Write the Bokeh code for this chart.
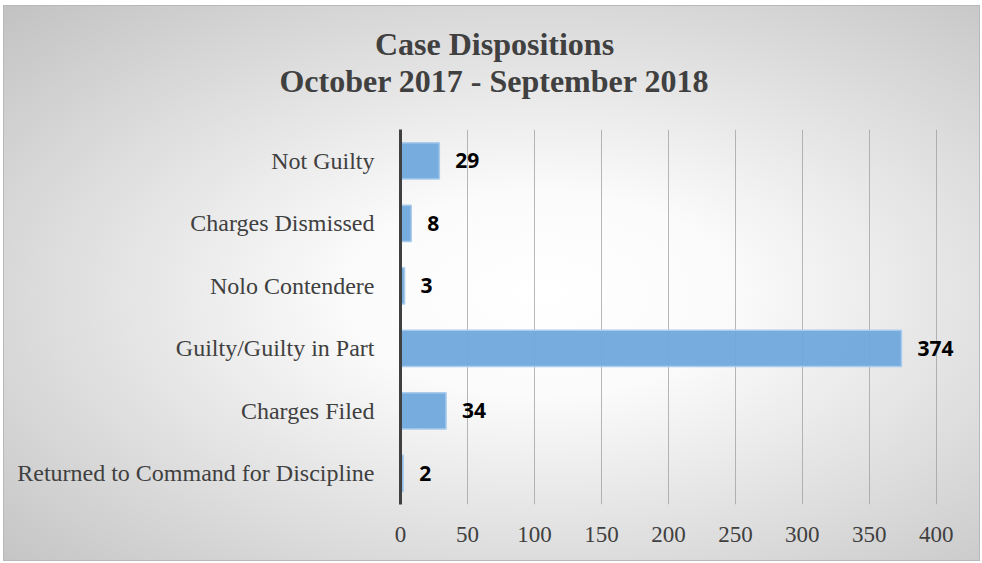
from bokeh.plotting import figure
from bokeh.models import ColumnDataSource, LabelSet, Title, FixedTicker, Range1d, FactorRange
from bokeh.core.properties import value
from bokeh.embed import file_html
from bokeh.resources import INLINE

categories = ["Returned to Command for Discipline", "Charges Filed", "Guilty/Guilty in Part",
              "Nolo Contendere", "Charges Dismissed", "Not Guilty"]
values = [2, 34, 374, 3, 8, 29]
x_ticks = [0, 50, 100, 150, 200, 250, 300, 350, 400]
title_lines = ["Case Dispositions", "October 2017 - September 2018"]

src = ColumnDataSource(dict(cat=categories, val=values, lab=[str(v) for v in values]))

W, H = 977, 556
FL, FT = 396, 123          # frame left / top inside figure
FW, FH = 576, 375          # frame size (x range 0..430)
p = figure(width=W, height=H, output_backend="svg", toolbar_location=None,
           y_range=FactorRange(factors=categories), x_range=Range1d(0, 430),
           min_border_left=FL, min_border_right=W - FL - FW,
           min_border_top=FT, min_border_bottom=H - FT - FH)
p.styles = {"background": "radial-gradient(ellipse at 55% 52%, #ffffff 0%, #fbfbfb 25%, #c2c2c2 100%)",
            "border": "1px solid #b8b8b8", "box-sizing": "border-box",
            "margin": "5px 0 0 3px"}
p.border_fill_color = None
p.background_fill_color = None
p.outline_line_color = None

p.hbar(y="cat", right="val", left=0, height=0.58, source=src,
       fill_color="#6fa8dc", fill_alpha=0.95, line_color="#a9cbec", line_width=1.5)

labels = LabelSet(x="val", y="cat", text="lab", source=src, x_offset=16, y_offset=0,
                  text_align="left", text_baseline="middle", text_font=value("Open Sans"),
                  text_font_style="bold", text_font_size="21px", text_color="#000000")
p.add_layout(labels)

# axes
p.xaxis.ticker = FixedTicker(ticks=x_ticks)
p.xaxis.axis_line_color = None
p.xaxis.major_tick_line_color = None
p.xaxis.minor_tick_line_color = None
p.xaxis.major_label_text_font = "Liberation Serif"
p.xaxis.major_label_text_font_size = "23px"
p.xaxis.major_label_text_color = "#404040"
p.xaxis.major_label_standoff = 16

p.yaxis.axis_line_color = "#404040"
p.yaxis.axis_line_width = 3
p.yaxis.major_tick_line_color = None
p.yaxis.minor_tick_line_color = None
p.yaxis.major_label_text_font = "Liberation Serif"
p.yaxis.major_label_text_font_size = "24px"
p.yaxis.major_label_text_color = "#404040"
p.yaxis.major_label_standoff = 20

p.ygrid.grid_line_color = None
p.xgrid.ticker = FixedTicker(ticks=x_ticks[1:])
p.xgrid.grid_line_color = "#9a9a9a"
p.xgrid.grid_line_alpha = 0.7
p.xgrid.grid_line_width = 1

# titles, centred on the whole chart (Times-Bold metrics: widths in em)
FS = 32
widths_em = [7.473, 13.442]
cx = 490 - FL
t2 = Title(text=title_lines[1], align="left", offset=cx - widths_em[1] * FS / 2,
           text_font="Liberation Serif", text_font_style="bold", text_font_size=f"{FS}px",
           text_color="#404040", standoff=62)
t1 = Title(text=title_lines[0], align="left", offset=cx - widths_em[0] * FS / 2,
           text_font="Liberation Serif", text_font_style="bold", text_font_size=f"{FS}px",
           text_color="#404040", standoff=-64)
p.add_layout(t2, "above")
p.add_layout(t1, "above")

open("out.html", "w").write(file_html(p, INLINE))
